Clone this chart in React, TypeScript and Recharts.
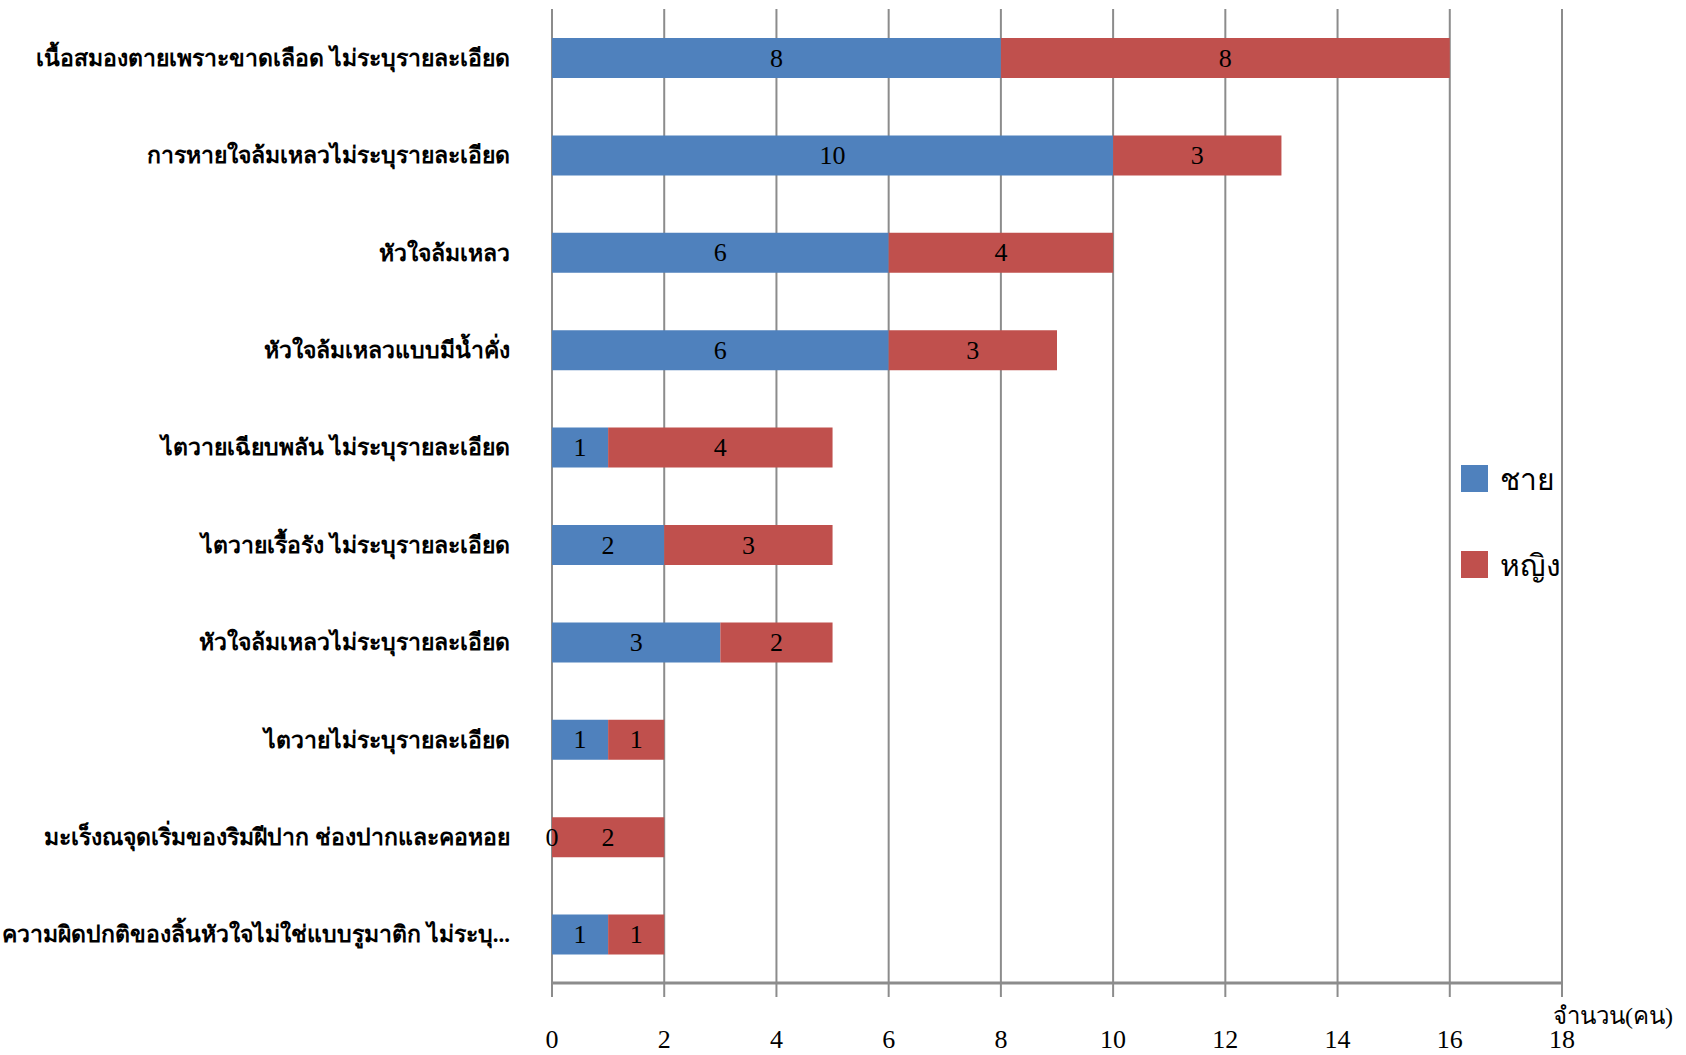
import React from "react";
import {
  Bar,
  BarChart,
  CartesianGrid,
  LabelList,
  Legend,
  XAxis,
  YAxis,
} from "recharts";

const causes = [
  "เนื้อสมองตายเพราะขาดเลือด ไม่ระบุรายละเอียด",
  "การหายใจล้มเหลวไม่ระบุรายละเอียด",
  "หัวใจล้มเหลว",
  "หัวใจล้มเหลวแบบมีน้ำคั่ง",
  "ไตวายเฉียบพลัน ไม่ระบุรายละเอียด",
  "ไตวายเรื้อรัง ไม่ระบุรายละเอียด",
  "หัวใจล้มเหลวไม่ระบุรายละเอียด",
  "ไตวายไม่ระบุรายละเอียด",
  "มะเร็งณจุดเริ่มของริมฝีปาก  ช่องปากและคอหอย",
  "ความผิดปกติของลิ้นหัวใจไม่ใช่แบบรูมาติก  ไม่ระบุ...",
];
const male = [8, 10, 6, 6, 1, 2, 3, 1, 0, 1];
const female = [8, 3, 4, 3, 4, 3, 2, 1, 2, 1];
const xTicks = [0, 2, 4, 6, 8, 10, 12, 14, 16, 18];
const rowTicks = [0, 1, 2, 3, 4, 5, 6, 7, 8, 9, 10];

const BLUE = "#4F81BD";
const RED = "#C0504D";
const GRID = "#8c8c8c";
const SERIF = "'Liberation Serif', 'Times New Roman', serif";

const data = causes.map((name, i) => ({ name, male: male[i], female: female[i] }));

const legendItems = [
  { label: "ชาย", color: BLUE },
  { label: "หญิง", color: RED },
];

function LegendBox() {
  return (
    <div>
      {legendItems.map((it, i) => (
        <div
          key={it.label}
          style={{
            display: "flex",
            alignItems: "center",
            height: 27,
            marginTop: i === 0 ? 0 : 59,
          }}
        >
          <span style={{ width: 27, height: 27, background: it.color, display: "inline-block" }} />
          <span
            style={{
              marginLeft: 12,
              fontFamily: "'Noto Sans', sans-serif",
              fontSize: 30,
              color: "#000",
              lineHeight: "27px",
            }}
          >
            {it.label}
          </span>
        </div>
      ))}
    </div>
  );
}

// value label at the segment centre; a zero male segment gets its "0" at the stack start
function SegmentLabel(props: any) {
  const { x, y, width, height, value } = props;
  return (
    <text
      x={x + width / 2}
      y={y + height / 2}
      textAnchor="middle"
      dominantBaseline="central"
      fill="#000"
      fontSize={26}
      fontFamily={SERIF}
    >
      {value}
    </text>
  );
}

function FemaleLabel(props: any) {
  const { x, y, height, index } = props;
  const zeroMale = male[index] === 0;
  return (
    <g>
      <SegmentLabel {...props} />
      {zeroMale && (
        <text
          x={x}
          y={y + height / 2}
          textAnchor="middle"
          dominantBaseline="central"
          fill="#000"
          fontSize={26}
          fontFamily={SERIF}
        >
          {male[index]}
        </text>
      )}
    </g>
  );
}

export default function App() {
  return (
    <div style={{ position: "absolute", left: 0, top: 0, background: "#fff" }}>
      <BarChart
        width={1686}
        height={1055}
        data={data}
        layout="vertical"
        margin={{ top: 9, right: 124, left: 0, bottom: 0 }}
        barSize={40}
      >
        <CartesianGrid horizontal={false} stroke={GRID} strokeWidth={2} />
        <XAxis
          type="number"
          domain={[0, 18]}
          ticks={xTicks}
          height={72}
          tickSize={14}
          tickMargin={33}
          axisLine={{ stroke: GRID, strokeWidth: 3 }}
          tickLine={{ stroke: GRID, strokeWidth: 2 }}
          tick={{ fill: "#000", fontSize: 26, fontFamily: SERIF }}
          label={{
            value: "จำนวน(คน)",
            position: "right",
            offset: -9,
            dy: -4,
            fill: "#000",
            fontSize: 24,
            fontFamily: SERIF,
          }}
        />
        <YAxis
          type="category"
          dataKey="name"
          width={552}
          axisLine={false}
          tickLine={false}
          tickSize={0}
          tickMargin={42}
          interval={0}
          tick={{ fill: "#000", fontSize: 23, fontWeight: "bold", fontFamily: SERIF }}
        />
        <YAxis
          yAxisId="rows"
          type="number"
          domain={[0, 10]}
          ticks={rowTicks}
          allowDataOverflow
          width={0}
          tick={false}
          tickSize={14}
          axisLine={{ stroke: GRID, strokeWidth: 2 }}
          tickLine={{ stroke: GRID, strokeWidth: 2 }}
        />
        <Legend
          layout="vertical"
          verticalAlign="middle"
          align="center"
          content={<LegendBox />}
          wrapperStyle={{ left: 1461, top: 465, width: 200 }}
        />
        <Bar dataKey="male" name="ชาย" stackId="a" fill={BLUE} isAnimationActive={false}>
          <LabelList dataKey="male" content={<SegmentLabel />} />
        </Bar>
        <Bar dataKey="female" name="หญิง" stackId="a" fill={RED} isAnimationActive={false}>
          <LabelList dataKey="female" content={<FemaleLabel />} />
        </Bar>
      </BarChart>
    </div>
  );
}
